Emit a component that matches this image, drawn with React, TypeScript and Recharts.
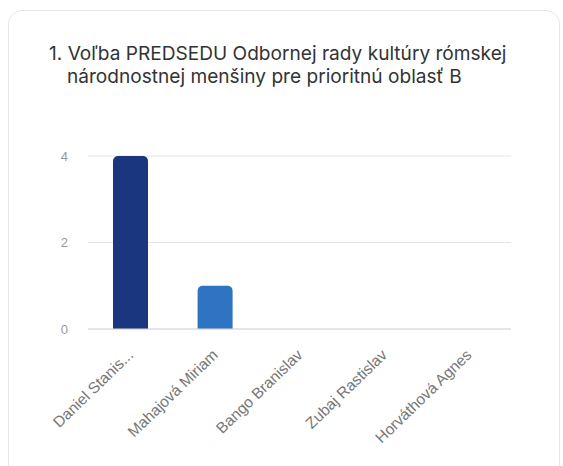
import React from "react";
import { BarChart, Bar, XAxis, YAxis, CartesianGrid, Cell } from "recharts";

const titleLine1 = "1. Voľba PREDSEDU Odbornej rady kultúry rómskej";
const titleLine2 = "národnostnej menšiny pre prioritnú oblasť B";
const categories = ["Daniel Stanis...", "Mahajová Miriam", "Bango Branislav", "Zubaj Rastislav", "Horváthová Agnes"];
const votes = [4, 1, 0, 0, 0];
const barColors = ["#19367f", "#2f74c2", "#2f74c2", "#2f74c2", "#2f74c2"];
const yTicks = [0, 2, 4];

const data = categories.map((name, i) => ({ name, value: votes[i] }));

const FONT = "Inter, 'Noto Sans', sans-serif";
const AXIS_FONT = "'Liberation Sans', Arial, sans-serif";

const XTick = (props: any) => {
  const { x, y, payload } = props;
  return (
    <g transform={`translate(${x + 4},${y + 19})`}>
      <text
        x={0}
        y={0}
        textAnchor="end"
        transform="rotate(-44)"
        fill="#777"
        fontSize={15.5}
        fontFamily={AXIS_FONT}
      >
        {payload.value}
      </text>
    </g>
  );
};

export default function App() {
  return (
    <div style={{ position: "absolute", left: 0, top: 0, width: 563, height: 466, background: "#fff", overflow: "hidden", fontFamily: FONT }}>
      <div
        style={{
          position: "absolute",
          left: 8,
          top: 10,
          width: 552,
          height: 480,
          border: "1px solid #e6e6e6",
          borderRadius: 14,
          boxSizing: "border-box",
        }}
      />
      <div style={{ position: "absolute", left: 49, top: 42, fontSize: 19.1, color: "#333", lineHeight: "23px", whiteSpace: "nowrap" }}>
        <div>{titleLine1}</div>
        <div style={{ paddingLeft: 18 }}>{titleLine2}</div>
      </div>
      <div style={{ position: "absolute", left: 0, top: 0 }}>
        <BarChart
          width={563}
          height={466}
          data={data}
          margin={{ top: 156, right: 52, left: 58, bottom: 37 }}
        >
          <CartesianGrid vertical={false} stroke="#e4e4e4" />
          <XAxis
            dataKey="name"
            interval={0}
            height={100}
            tickLine={false}
            axisLine={{ stroke: "#d8d8d8" }}
            tick={<XTick />}
          />
          <YAxis
            width={30}
            domain={[0, 4]}
            ticks={yTicks}
            tickLine={false}
            axisLine={false}
            tickMargin={14}
            tick={{ fill: "#999", fontSize: 13, fontFamily: AXIS_FONT }}
          />
          <Bar dataKey="value" barSize={35} radius={[5, 5, 0, 0]} isAnimationActive={false}>
            {data.map((d, i) => (
              <Cell key={d.name} fill={barColors[i]} />
            ))}
          </Bar>
        </BarChart>
      </div>
    </div>
  );
}
